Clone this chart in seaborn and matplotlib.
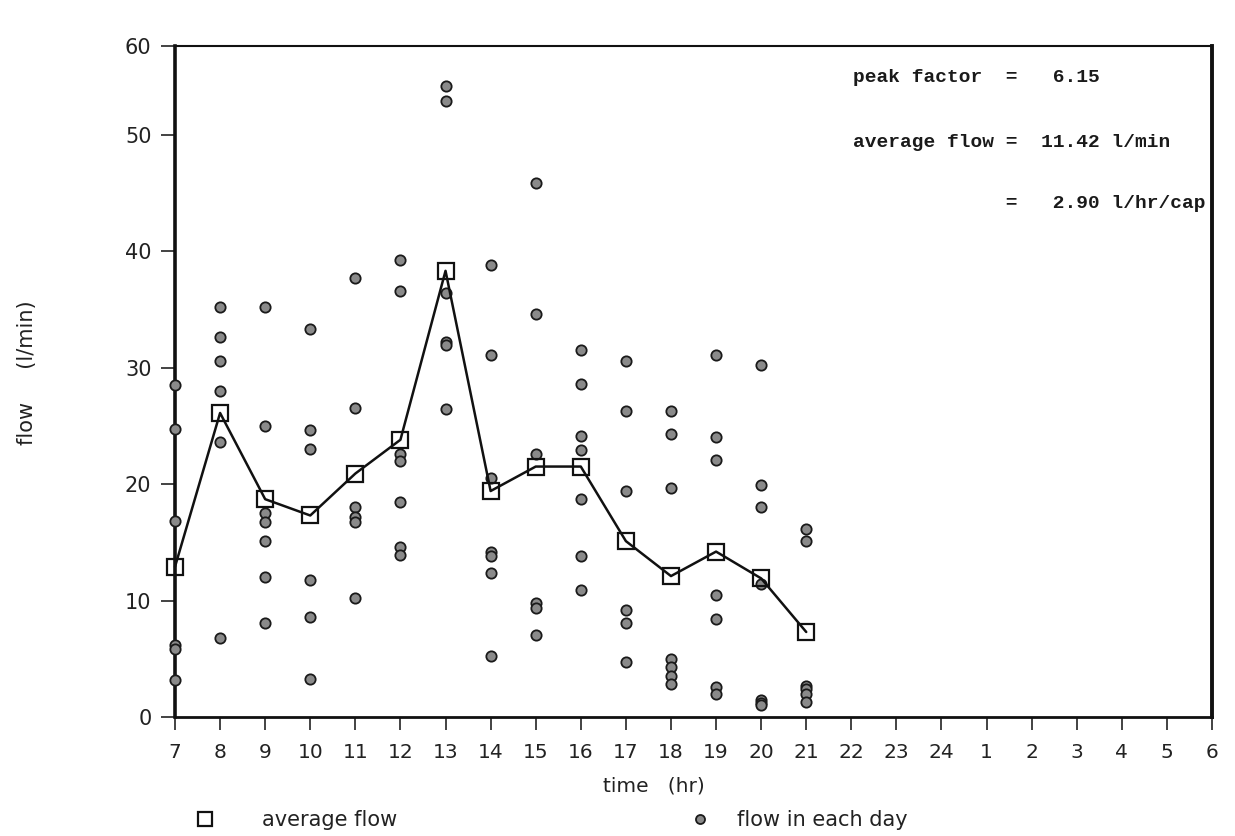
import matplotlib
matplotlib.use("Agg")
import matplotlib.pyplot as plt
from matplotlib.lines import Line2D
import seaborn as sns
import pandas as pd

# hour-of-day axis, running from 07:00 through midnight to 06:00
hour_labels = ["7", "8", "9", "10", "11", "12", "13", "14", "15", "16", "17", "18",
               "19", "20", "21", "22", "23", "24", "1", "2", "3", "4", "5", "6"]

# hourly average flow (l/min), 7 to 21 h
avg_hours = ["7", "8", "9", "10", "11", "12", "13", "14", "15", "16", "17", "18", "19", "20", "21"]
avg_flow = [12.9, 26.1, 18.7, 17.3, 20.9, 23.8, 38.3, 19.4, 21.5, 21.5, 15.1, 12.1, 14.2, 11.9, 7.3]

# individual daily readings (l/min): hour of reading and measured flow
reading_hour = (["7"] * 6 + ["8"] * 6 + ["9"] * 7 + ["10"] * 6 + ["11"] * 6 + ["12"] * 7 +
                ["13"] * 6 + ["14"] * 7 + ["15"] * 6 + ["16"] * 7 + ["17"] * 6 + ["18"] * 7 +
                ["19"] * 7 + ["20"] * 7 + ["21"] * 6)
reading_flow = [28.5, 24.7, 16.8, 6.2, 5.8, 3.2,
                35.2, 32.6, 30.6, 28.0, 23.6, 6.8,
                35.2, 25.0, 17.5, 16.7, 15.1, 12.0, 8.1,
                33.3, 24.6, 23.0, 11.8, 8.6, 3.3,
                37.7, 26.5, 18.0, 17.2, 16.7, 10.2,
                39.2, 36.6, 22.6, 22.0, 18.5, 14.6, 13.9,
                54.2, 52.9, 36.4, 32.2, 31.9, 26.4,
                38.8, 31.1, 20.5, 14.2, 13.8, 12.4, 5.2,
                45.8, 34.6, 22.6, 9.8, 9.4, 7.0,
                31.5, 28.6, 24.1, 22.9, 18.7, 13.8, 10.9,
                30.6, 26.3, 19.4, 9.2, 8.1, 4.7,
                26.3, 24.3, 19.7, 5.0, 4.3, 3.5, 2.8,
                31.1, 24.0, 22.1, 10.5, 8.4, 2.6, 2.0,
                30.2, 19.9, 18.0, 11.4, 1.5, 1.2, 1.0,
                16.1, 15.1, 2.7, 2.4, 2.0, 1.3]

y_ticks = [0, 10, 20, 30, 40, 50]

summary_lines = ["peak factor  =   6.15",
                 "average flow =  11.42 l/min",
                 "             =   2.90 l/hr/cap"]

pos = {h: i for i, h in enumerate(hour_labels)}
avg_df = pd.DataFrame({"x": [pos[h] for h in avg_hours], "flow": avg_flow})
day_df = pd.DataFrame({"x": [pos[h] for h in reading_hour], "flow": reading_flow})

sns.set_theme(style="white")
plt.rcParams["font.family"] = ["DejaVu Sans"]

fig = plt.figure(figsize=(12.35, 8.36), dpi=100)
ax = fig.add_axes([0.1417, 0.1423, 0.8397, 0.8027])

sns.scatterplot(data=day_df, x="x", y="flow", ax=ax, marker="o", s=55,
                color="#8a8a8a", edgecolor="#1a1a1a", linewidth=1.3,
                clip_on=False, zorder=3, legend=False)
sns.lineplot(data=avg_df, x="x", y="flow", ax=ax, color="#111111", lw=1.8,
             marker="s", markersize=12, markerfacecolor="none",
             markeredgecolor="#111111", markeredgewidth=1.6,
             clip_on=False, zorder=4, legend=False)

ax.set_xlim(0, 23)
y_top = 57.6
ax.set_ylim(0, y_top)
ax.set_xticks(range(len(hour_labels)))
ax.set_xticklabels(hour_labels, fontsize=14.5, color="#222222")
ax.set_yticks(y_ticks + [y_top])
ax.set_yticklabels([str(v) for v in y_ticks] + ["60"], fontsize=15, color="#222222")
ax.tick_params(axis="x", bottom=True, direction="out", length=9, width=1.2, pad=10,
               colors="#222222")
ax.tick_params(axis="y", left=True, direction="out", length=10, width=1.2, pad=7,
               colors="#222222")
ax.set_xlabel("time   (hr)", fontsize=14.5, color="#222222")
ax.xaxis.set_label_coords(0.462, -0.088)
ax.set_ylabel("flow     (l/min)", fontsize=15, color="#222222")
ax.yaxis.set_label_coords(-0.133, 0.513)

for side, lw in [("left", 2.6), ("bottom", 2.0), ("top", 1.5), ("right", 2.8)]:
    ax.spines[side].set_visible(True)
    ax.spines[side].set_linewidth(lw)
    ax.spines[side].set_color("#111111")

# summary statistics, monospaced so the equals signs line up
for line, yy in zip(summary_lines, [0.907, 0.829, 0.757]):
    fig.text(0.6905, yy, line, fontsize=14, fontweight="bold",
             family=["Liberation Mono", "DejaVu Sans Mono"], color="#1a1a1a",
             va="center", ha="left")

# key below the plot: one entry for the averages, one for the daily readings
avg_key = Line2D([], [], ls="none", marker="s", markersize=10, mfc="none",
                 mec="#111111", mew=1.6)
day_key = Line2D([], [], ls="none", marker="o", markersize=6.5, mfc="#8a8a8a",
                 mec="#1a1a1a", mew=1.3)
for handle, label, x0, pad in [(avg_key, "average flow", 0.1576, 2.24),
                               (day_key, "flow in each day", 0.5584, 1.28)]:
    fig.legend([handle], [label], frameon=False, loc="center left",
               bbox_to_anchor=(x0, 0.0191), fontsize=15, handlelength=1.0,
               handletextpad=pad, borderpad=0, borderaxespad=0,
               labelcolor="#222222")

fig.savefig("out.png", dpi=100, facecolor="white")
